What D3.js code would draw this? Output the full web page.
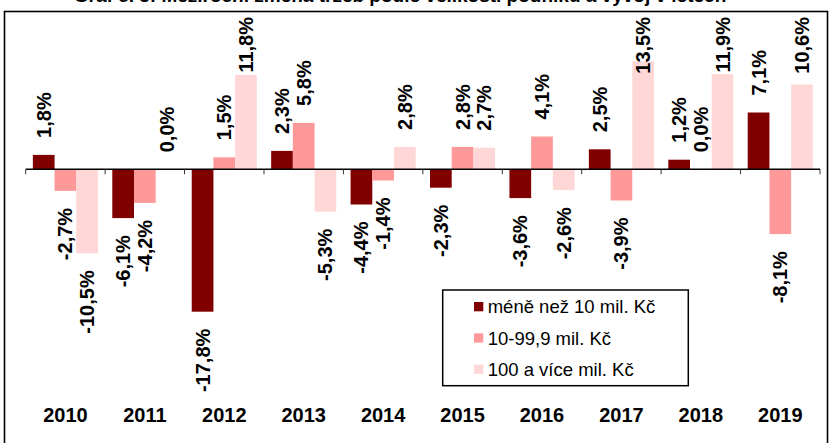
<!DOCTYPE html>
<html>
<head>
<meta charset="utf-8">
<script src="https://cdn.jsdelivr.net/npm/d3@7"></script>
<style>
  body { margin: 0; background: #fff; }
  svg { display: block; font-family: "Liberation Sans", Arial, sans-serif; }
</style>
</head>
<body>
<div id="chart"></div>
<script>
const width = 838;
const height = 443;

const years = ["2010", "2011", "2012", "2013", "2014", "2015", "2016", "2017", "2018", "2019"];
const seriesNames = ["méně než 10 mil. Kč", "10-99,9 mil. Kč", "100 a více mil. Kč"];
const small = [1.8, -6.1, -17.8, 2.3, -4.4, -2.3, -3.6, 2.5, 1.2, 7.1];
const medium = [-2.7, -4.2, 1.5, 5.8, -1.4, 2.8, 4.1, -3.9, 0.0, -8.1];
const large = [-10.5, 0.0, 11.8, -5.3, 2.8, 2.7, -2.6, 13.5, 11.9, 10.6];
const colors = ["#800000", "#ff9999", "#ffd7d7"];

const seriesValues = [small, medium, large];
const rows = [];
years.forEach((yr, i) => {
    seriesValues.forEach((vals, s) => rows.push({ year: yr, s: s, value: vals[i] }));
});

const locale = d3.formatLocale({ decimal: ",", thousands: " ", grouping: [3], currency: ["", " Kč"], minus: "-" });
const fmt = v => locale.format(".1f")(v) + "%";

const svg = d3.select("#chart").append("svg")
    .attr("width", width)
    .attr("height", height);

// title, mostly cut off at the top edge
svg.append("text")
    .attr("x", 400)
    .attr("y", 2)
    .attr("text-anchor", "middle")
    .attr("font-weight", "bold")
    .attr("font-size", 19)
    .text("Graf č. 3: Meziroční změna tržeb podle velikosti podniků a vývoj v letech");

// outer frame
svg.append("rect")
    .attr("x", 4.5)
    .attr("y", 11.5)
    .attr("width", 823)
    .attr("height", 445)
    .attr("fill", "none")
    .attr("stroke", "#000")
    .attr("stroke-width", 1.6);

const x = d3.scaleBand().domain(years).range([25.7, 820]).padding(0);
const xs = d3.scaleBand().domain([0, 1, 2]).range([0, x.bandwidth()]).paddingInner(0).paddingOuter(0.33);
const y = d3.scaleLinear().domain([-20, 20]).range([329.3, 9.3]);

svg.append("g")
    .selectAll("rect")
    .data(rows)
    .join("rect")
    .attr("x", d => x(d.year) + xs(d.s))
    .attr("width", xs.bandwidth())
    .attr("y", d => y(Math.max(0, d.value)))
    .attr("height", d => Math.abs(y(d.value) - y(0)))
    .attr("fill", d => colors[d.s]);

// zero line and ticks
const axis = svg.append("g");
axis.append("line")
    .attr("x1", x.range()[0]).attr("x2", x.range()[1])
    .attr("y1", y(0)).attr("y2", y(0))
    .attr("stroke", "#000").attr("stroke-width", 1.5);
axis.selectAll(".tk")
    .data(years.concat(["end"]))
    .join("line")
    .attr("x1", (d, i) => x.range()[0] + i * x.step())
    .attr("x2", (d, i) => x.range()[0] + i * x.step())
    .attr("y1", y(0)).attr("y2", y(0) + 5)
    .attr("stroke", "#333").attr("stroke-width", 1);

// value labels, rotated
const gap = 17;
const topLimit = 17;
const labels = svg.append("g")
    .selectAll("text")
    .data(rows)
    .join("text")
    .attr("font-weight", "bold")
    .attr("font-size", 20)
    .attr("dy", "0.35em")
    .attr("text-anchor", d => d.value >= 0 ? "start" : "end")
    .text(d => fmt(d.value));

labels.each(function (d) {
    const cx = x(d.year) + xs(d.s) + xs.bandwidth() / 2;
    let yy;
    if (d.value >= 0) {
        yy = y(d.value) - gap;
        const len = this.getComputedTextLength();
        if (yy - len < topLimit) yy = topLimit + len;
    } else {
        yy = y(d.value) + gap;
    }
    d3.select(this).attr("transform", `translate(${cx},${yy}) rotate(-90)`);
});

// year labels
svg.append("g")
    .selectAll("text")
    .data(years)
    .join("text")
    .attr("x", d => x(d) + x.bandwidth() / 2)
    .attr("y", 421.5)
    .attr("text-anchor", "middle")
    .attr("font-weight", "bold")
    .attr("font-size", 20)
    .text(d => d);

// legend
const legend = svg.append("g");
legend.append("rect")
    .attr("x", 442.7).attr("y", 290)
    .attr("width", 245.6).attr("height", 95.7)
    .attr("fill", "#fff")
    .attr("stroke", "#000").attr("stroke-width", 1.5);
const item = legend.selectAll(".it")
    .data(seriesNames)
    .join("g")
    .attr("transform", (d, i) => `translate(474,${306.7 + i * 31.3})`);
item.append("rect")
    .attr("x", 0).attr("y", -4.7)
    .attr("width", 9.3).attr("height", 9.3)
    .attr("fill", (d, i) => colors[i]);
item.append("text")
    .attr("x", 13.7)
    .attr("dy", "0.36em")
    .attr("font-size", 18.5)
    .text(d => d);
</script>
</body>
</html>
